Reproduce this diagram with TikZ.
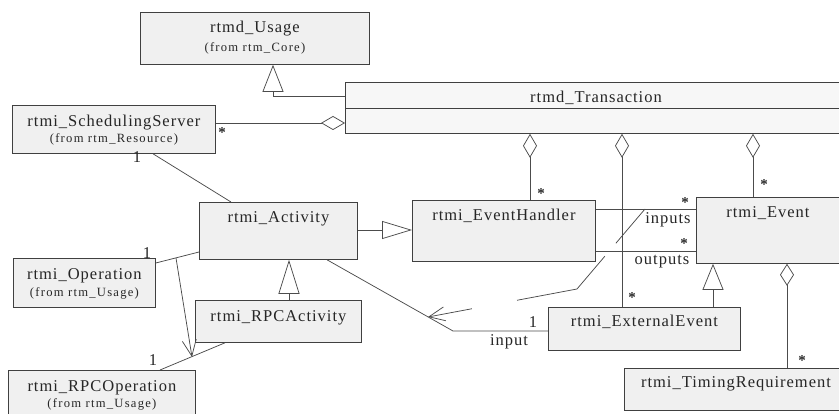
\documentclass[tikz,border=0pt]{standalone}
\usepackage{fontspec}
\setmainfont{Liberation Serif}
\newfontfamily\nmfont[LetterSpace=6]{Liberation Serif}
\newfontfamily\subfont[LetterSpace=10]{Liberation Serif}
\usetikzlibrary{arrows.meta,calc}
\begin{document}
\begin{tikzpicture}[x=1pt,y=-1pt,
 box/.style={draw=black!75, fill=black!6, line width=0.8pt, rectangle, inner sep=0pt, anchor=north west},
 nm/.style={font=\nmfont\fontsize{16.5}{18}\selectfont, text=black!85, anchor=base, inner sep=0pt},
 sub/.style={font=\subfont\fontsize{12.6}{14}\selectfont, text=black!85, anchor=base, inner sep=0pt},
 star/.style={font=\bfseries\fontsize{15}{15}\selectfont, text=black!85, inner sep=0pt},
 con/.style={draw=black!70, line width=0.75pt},
 gen/.style={con, -{Triangle[open,length=27pt,width=21pt]}},
 agg/.style={con, {Diamond[open,length=24pt,width=14pt]}-},
 dep/.style={con, -{Straight Barb[length=16pt,width=14pt]}}]
\useasboundingbox (0,0) rectangle (839,414);
\clip (0,0) rectangle (839,414);

% boxes
\node[box, minimum width=229pt, minimum height=52pt] (usage) at (140,12) {};
\node[box, minimum width=203pt, minimum height=48pt] (sched) at (12,105) {};
\node[box, fill=black!3, minimum width=502pt, minimum height=51pt] (trans) at (345,82) {};
\draw[draw=black!75, line width=0.8pt] ($(trans.north west)+(0,26)$) -- ($(trans.north east)+(0,26)$);
\node[box, minimum width=158pt, minimum height=57pt] (act) at (199,202) {};
\node[box, minimum width=183pt, minimum height=61pt] (eh) at (412,200) {};
\node[box, minimum width=145pt, minimum height=66pt] (ev) at (696,197) {};
\node[box, minimum width=142pt, minimum height=49pt] (op) at (13,258) {};
\node[box, minimum width=166pt, minimum height=42pt] (rpca) at (195,300) {};
\node[box, minimum width=187pt, minimum height=50pt] (rpco) at (8,370) {};
\node[box, minimum width=192pt, minimum height=43pt] (ext) at (548,307) {};
\node[box, minimum width=224pt, minimum height=42pt] (tim) at (624,368) {};

% texts
\node[nm] (tusage) at ($(usage.north)+(0,21)$) {rtmd\_Usage};
\node[sub] (susage) at ($(usage.north)+(0,40)$) {(from rtm\_Core)};
\node[nm] (tsched) at ($(sched.north)+(0,21.5)$) {rtmi\_SchedulingServer};
\node[sub] (ssched) at ($(sched.north)+(0,38)$) {(from rtm\_Resource)};
\node[nm] (ttrans) at (596,103) {rtmd\_Transaction};
\node[nm] (tact) at ($(act.north)+(0,21)$) {rtmi\_Activity};
\node[nm] (teh) at ($(eh.north)+(0,21)$) {rtmi\_EventHandler};
\node[nm] (tev) at (768,218) {rtmi\_Event};
\node[nm] (top) at ($(op.north)+(0,22)$) {rtmi\_Operation};
\node[sub] (sop) at ($(op.north)+(0,39)$) {(from rtm\_Usage)};
\node[nm] (trpca) at ($(rpca.north)+(0,21.5)$) {rtmi\_RPCActivity};
\node[nm] (trpco) at ($(rpco.north)+(0,21.5)$) {rtmi\_RPCOperation};
\node[sub] (srpco) at ($(rpco.north)+(0,37)$) {(from rtm\_Usage)};
\node[nm] (text) at ($(ext.north)+(0,20)$) {rtmi\_ExternalEvent};
\node[nm] (ttim) at (736,388) {rtmi\_TimingRequirement};

% helper coordinates
\coordinate (g1) at (273,96);
\coordinate (a1) at (0,123);
\coordinate (bend1) at (453,331);
\coordinate (d0) at (645,209);
\coordinate (d1) at (577,289);
\coordinate (d2) at (428,317);
\coordinate (o1) at (176,258);
\coordinate (o2) at (192,357);

% connectors
\draw[gen] ($(trans.north west)+(0,14)$) -| (usage.south -| g1);
\draw[agg] (trans.west |- a1) -- (sched.east |- a1);
\draw[con] (sched.south -| 153,0) -- (act.north -| 231,0);
\draw[con, -{Triangle[open,length=30pt,width=18pt]}] (act.east |- 0,230) -- (eh.west |- 0,230);
\draw[agg] (trans.south -| 530,0) -- (eh.north -| 530,0);
\draw[agg] (trans.south -| 622,0) -- (ext.north -| 622,0);
\draw[agg] (trans.south -| 753,0) -- (ev.north -| 753,0);
\draw[con] (eh.east |- 0,209) -- (ev.west |- 0,209);
\draw[con] (eh.east |- 0,251) -- (ev.west |- 0,251);
\draw[con, -{Triangle[open,length=26pt,width=21pt]}] (ext.north -| 713,0) -- (ev.south -| 713,0);
\draw[con, {Diamond[open,length=22pt,width=14pt]}-] (ev.south -| 787,0) -- (tim.north -| 787,0);
\draw[con] (act.south -| 327,0) -- (bend1) -- (ext.west |- bend1);
\draw[dep, dash pattern=on 45pt off 17pt on 104pt off 46pt on 60pt] (d0) -- (d1) -- (d2);
\draw[con] (op.east |- 0,263) -- (act.west |- 0,252);
\draw[dep] (o1) -- (o2);
\draw[con] (rpca.south -| 225,0) -- (rpco.north -| 160,0);
\draw[con, -{Triangle[open,length=34pt,width=21pt]}] (rpca.north -| 289,0) -- (act.south -| 289,0);

% multiplicities and roles
\node[star] (m1) at (222,133) {*};
\node[nm] (m2) at (137,163) {1};
\node[star] (m3) at (541,194) {*};
\node[star] (m4) at (764,185) {*};
\node[star] (m5) at (632,298) {*};
\node[star] (m6) at (685,203) {*};
\node[star] (m7) at (684,244) {*};
\node[star] (m8) at (802,361) {*};
\node[nm] (r1) at (668,224) {inputs};
\node[nm] (r2) at (662,265) {outputs};
\node[nm] (m9) at (533,328) {1};
\node[nm] (r3) at (509,345) {input};
\node[nm] (m10) at (147,259) {1};
\node[nm] (m11) at (153,366) {1};
\end{tikzpicture}
\end{document}
